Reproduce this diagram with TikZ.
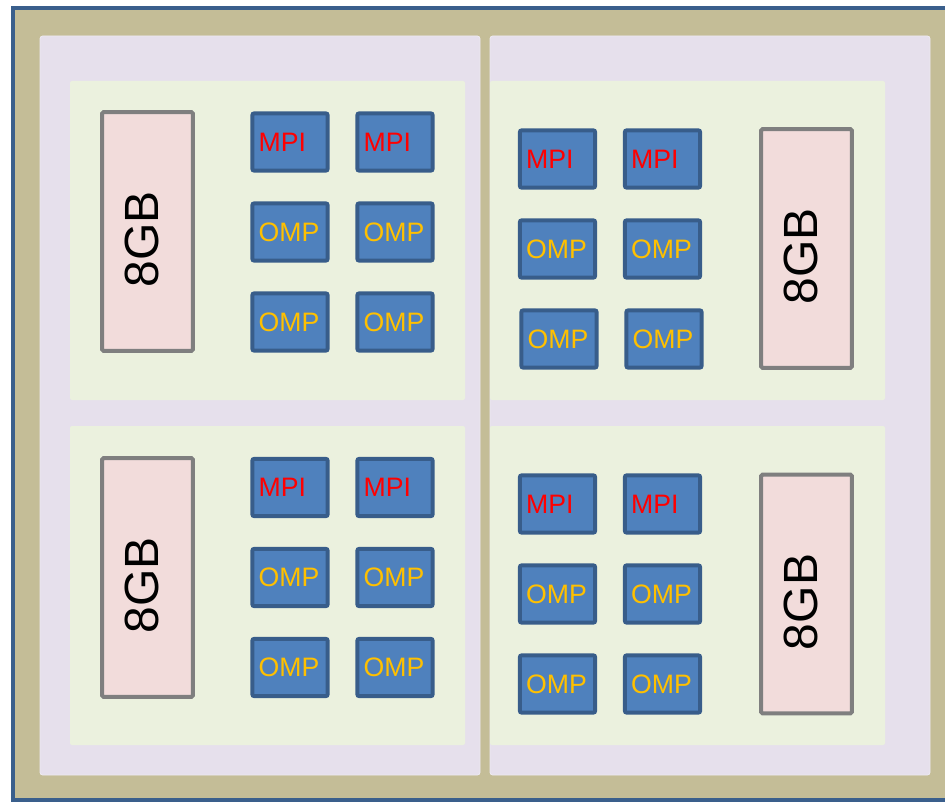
\documentclass[tikz,border=0pt]{standalone}
\usepackage{fontspec}
\setmainfont{Liberation Sans}
\definecolor{frameblue}{HTML}{3A5F8C}
\definecolor{tan}{HTML}{C4BD97}
\definecolor{lav}{HTML}{E6E0EC}
\definecolor{lavedge}{HTML}{EDEAF1}
\definecolor{pale}{HTML}{EBF1DE}
\definecolor{chipfill}{HTML}{4F81BD}
\definecolor{chipedge}{HTML}{385D8A}
\definecolor{memfill}{HTML}{F2DCDB}
\definecolor{memedge}{HTML}{7F7F7F}
\definecolor{ompcol}{HTML}{FFC000}
\tikzset{
  chip/.style={draw=chipedge, fill=chipfill, line width=3pt, rounded corners=1.5pt,
    minimum width=56.5pt, minimum height=43pt, text width=47pt, align=left, inner sep=0pt,
    font=\fontsize{20}{21}\selectfont},
  mpi/.style={chip, text=red},
  omp/.style={chip, text=ompcol},
  mem/.style={draw=memedge, fill=memfill, line width=3pt, rounded corners=1pt,
    minimum width=68pt, minimum height=179pt, inner sep=0pt},
  memtext/.style={rotate=90, font=\fontsize{36}{37}\selectfont, inner sep=0pt},
  socket/.style={fill=lav, draw=lavedge, line width=0.6pt, rounded corners=2pt},
  numa/.style={fill=pale, rounded corners=1.5pt}
}
\begin{document}
\begin{tikzpicture}[x=0.75pt, y=-0.75pt]
\useasboundingbox (0,0) rectangle (945,802);
\clip (0,0) rectangle (945,802);
\draw[frameblue, fill=tan, line width=3pt] (13,8) rectangle (980,800);
% sockets
\draw[socket] (40,36) rectangle (480,775);
\draw[socket] (490,36) rectangle (930,775);
% numa regions
\fill[numa] (70,81) rectangle (465,400);
\fill[numa] (490,81) rectangle (885,400);
\fill[numa] (70,426) rectangle (465,745);
\fill[numa] (490,426) rectangle (885,745);
% memories
\node[mem] (m1) at (147.5,231.5) {};
\node[memtext] (m1t) at ([shift={(-6,8)}]m1.center) {8GB};
\node[mem] (m3) at (147.5,577.5) {};
\node[memtext] (m3t) at ([shift={(-6,8)}]m3.center) {8GB};
\node[mem] (m2) at (806.5,248.5) {};
\node[memtext] (m2t) at ([shift={(-6,8)}]m2.center) {8GB};
\node[mem] (m4) at (806.5,594) {};
\node[memtext] (m4t) at ([shift={(-6,8)}]m4.center) {8GB};
% top-left chips
\node[mpi] (a11) at (290,142) {MPI};
\node[mpi] (a12) at (395,142) {MPI};
\node[omp] (a21) at (290,232) {OMP};
\node[omp] (a22) at (395,232) {OMP};
\node[omp] (a31) at (290,322) {OMP};
\node[omp] (a32) at (395,322) {OMP};
% top-right chips
\node[mpi] (b11) at (557.5,159) {MPI};
\node[mpi] (b12) at (662.5,159) {MPI};
\node[omp] (b21) at (557.5,249) {OMP};
\node[omp] (b22) at (662.5,249) {OMP};
\node[omp] (b31) at (559,339) {OMP};
\node[omp] (b32) at (664,339) {OMP};
% bottom-left chips
\node[mpi] (c11) at (290,487.5) {MPI};
\node[mpi] (c12) at (395,487.5) {MPI};
\node[omp] (c21) at (290,577.5) {OMP};
\node[omp] (c22) at (395,577.5) {OMP};
\node[omp] (c31) at (290,667.5) {OMP};
\node[omp] (c32) at (395,667.5) {OMP};
% bottom-right chips
\node[mpi] (d11) at (557.5,504) {MPI};
\node[mpi] (d12) at (662.5,504) {MPI};
\node[omp] (d21) at (557.5,594) {OMP};
\node[omp] (d22) at (662.5,594) {OMP};
\node[omp] (d31) at (557.5,684) {OMP};
\node[omp] (d32) at (662.5,684) {OMP};
\end{tikzpicture}
\end{document}
